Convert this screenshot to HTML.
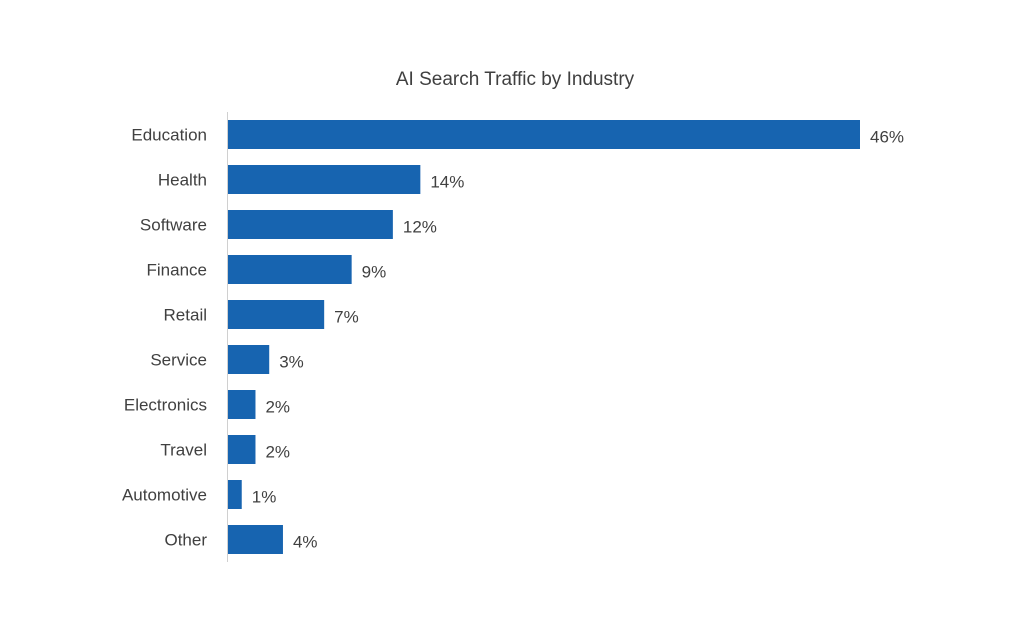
<!DOCTYPE html>
<html><head><meta charset="utf-8"><style>
html,body{margin:0;padding:0;background:#fff;}
svg{display:block;font-family:"Liberation Sans",sans-serif;}
</style></head><body>
<svg id="chart" width="1024" height="641" viewBox="0 0 1024 641">
<text x="515" y="85" text-anchor="middle" font-size="19" fill="#404040">AI Search Traffic by Industry</text>
<g id="bars"></g>
<line x1="227.5" y1="112" x2="227.5" y2="562" stroke="#d0d0d0" stroke-width="1"/>
</svg>
<script>
const categories = ["Education","Health","Software","Finance","Retail","Service","Electronics","Travel","Automotive","Other"];
const values = [46,14,12,9,7,3,2,2,1,4];
const valueLabels = ["46%","14%","12%","9%","7%","3%","2%","2%","1%","4%"];
const NS="http://www.w3.org/2000/svg";
const x0=228, pxPer=(860-228)/46;
function xScale(v){return x0+v*pxPer;}
function yCenter(i){return 134.5+i*45;}
const g=document.getElementById('bars');
categories.forEach((c,i)=>{
  const yc=yCenter(i);
  const r=document.createElementNS(NS,'rect');
  
  
  r.setAttribute('x',x0);r.setAttribute('y',yc-14.5);
  r.setAttribute('width',xScale(values[i])-x0);r.setAttribute('height',29);
  r.setAttribute('fill','#1764b0');
  g.appendChild(r);
  const l=document.createElementNS(NS,'text');
  
  
  l.setAttribute('x',207);l.setAttribute('y',yc+6);
  l.setAttribute('text-anchor','end');l.setAttribute('font-size','17');l.setAttribute('fill','#404040');
  l.textContent=c;g.appendChild(l);
  const v=document.createElementNS(NS,'text');
  
  
  v.setAttribute('x',xScale(values[i])+10);v.setAttribute('y',yc+8);
  v.setAttribute('font-size','17');v.setAttribute('fill','#404040');
  v.textContent=valueLabels[i];g.appendChild(v);
});
</script>
</body></html>
